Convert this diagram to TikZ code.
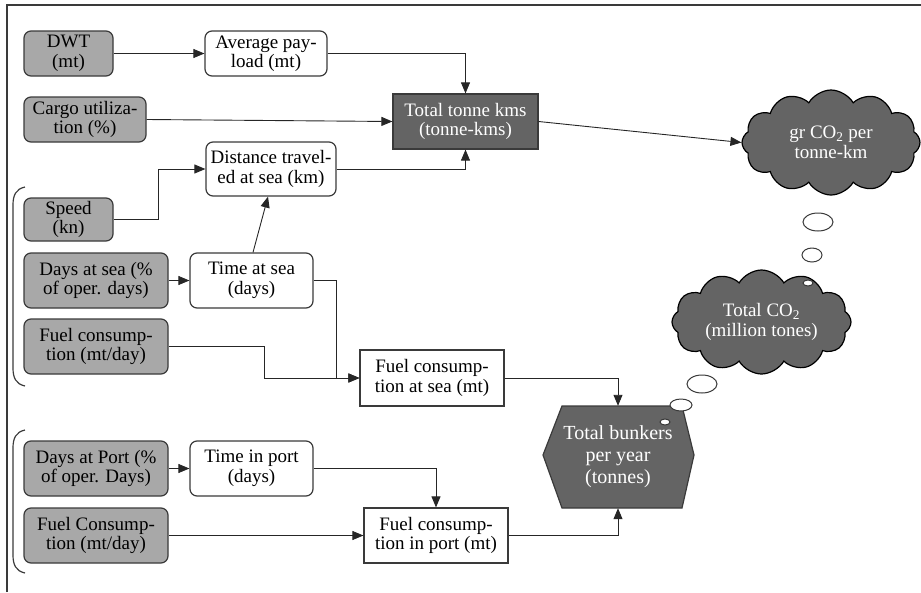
\documentclass[tikz,border=0pt]{standalone}
\usepackage{fontspec}
\setmainfont{Liberation Serif}
\usetikzlibrary{arrows.meta,shapes.symbols}
\definecolor{lg}{HTML}{A8A8A8}
\definecolor{dg}{HTML}{646464}
\definecolor{bd}{HTML}{3A3A3A}
\begin{document}
\begin{tikzpicture}[x=1pt,y=-1pt,
  font=\fontsize{19}{19.5}\selectfont,
  base/.style={draw=bd,line width=1.2pt,align=center,inner sep=0pt},
  gbox/.style={base,rounded corners=7pt,fill=lg},
  wbox/.style={base,rounded corners=7pt,fill=white},
  sbox/.style={base,fill=white},
  dbox/.style={base,fill=dg,text=white},
  arr/.style={draw=black!85,line width=0.9pt,-{Triangle[length=11pt,width=9pt]}},
  cl/.style={cloud,cloud puffs=12,cloud puff arc=120,cloud ignores aspect,
    fill=dg,draw=black,line width=1.2pt,text=white,inner sep=0pt,align=center},
  bub/.style={draw=bd,fill=white,line width=1pt},
  brk/.style={draw=bd,line width=1.2pt}
  ]
\useasboundingbox (0,0) rectangle (921,592);
\draw[bd,line width=1.5pt] (7,592) -- (7,5) -- (921,5);

% brackets
\draw[brk] (25,187) .. controls (16,189) and (13,195) .. (13,205) -- (13,368) .. controls (13,378) and (16,384) .. (25,386);
\draw[brk] (25,430) .. controls (16,432) and (13,438) .. (13,448) -- (13,555) .. controls (13,565) and (16,571) .. (25,573);

% nodes
\node[gbox,minimum width=89pt,minimum height=45pt] (dwt) at (68.5,53.5) {DWT\\(mt)};
\node[wbox,minimum width=122pt,minimum height=45pt] (avg) at (266,53.5) {Average pay-\\load (mt)};
\node[gbox,minimum width=122pt,minimum height=45pt] (cargo) at (85,119.5) {Cargo utiliza-\\tion (\%)};
\node[dbox,minimum width=145pt,minimum height=55pt] (tt) at (465.5,121.5) {Total tonne kms\\(tonne-kms)};
\node[wbox,minimum width=130pt,minimum height=54pt] (dist) at (271,169) {Distance travel-\\ed at sea (km)};
\node[gbox,minimum width=89pt,minimum height=43pt] (speed) at (68.5,219.5) {Speed\\(kn)};
\node[gbox,minimum width=144pt,minimum height=55pt] (dsea) at (96,280.5) {Days at sea (\%\\of oper. days)};
\node[wbox,minimum width=123pt,minimum height=55pt] (tsea) at (251.5,280.5) {Time at sea\\(days)};
\node[gbox,minimum width=144pt,minimum height=55pt] (fcs) at (96,346.5) {Fuel consump-\\tion (mt/day)};
\node[sbox,minimum width=144pt,minimum height=56pt] (fsea) at (432,378) {Fuel consump-\\tion at sea (mt)};
\node[gbox,minimum width=144pt,minimum height=55pt] (dport) at (96,468.5) {Days at Port (\%\\of oper. Days)};
\node[wbox,minimum width=123pt,minimum height=55pt] (tport) at (251.5,468.5) {Time in port\\(days)};
\node[gbox,minimum width=144pt,minimum height=55pt] (fcp) at (96,535.5) {Fuel Consump-\\tion (mt/day)};
\node[sbox,minimum width=144pt,minimum height=55pt] (fport) at (436,535.5) {Fuel consump-\\tion in port (mt)};

% hexagon
\draw[draw=bd,fill=dg,line width=1.2pt] (543,455) -- (562,406) -- (682,406) -- (694,455) -- (682,508) -- (562,508) -- cycle;
\node[inner sep=0pt,minimum width=151pt,minimum height=102pt,text=white,align=center,
  font=\fontsize{20}{22}\selectfont] (bunk) at (618,457) {Total bunkers\\per year\\(tonnes)};

% clouds
\node[cl,minimum width=178pt,minimum height=105pt] (c1) at (831,142.5) {gr CO\textsubscript{2} per\\tonne-km};
\node[cl,minimum width=179pt,minimum height=104pt] (c2) at (761.5,322) {Total CO\textsubscript{2}\\(million tones)};

% thought bubbles
\draw[bub] (818,222) ellipse [x radius=15pt,y radius=9pt];
\draw[bub] (812,255) ellipse [x radius=10pt,y radius=7pt];
\draw[bub] (808,283) ellipse [x radius=5pt,y radius=3pt];
\draw[bub] (702,384) ellipse [x radius=15pt,y radius=9pt];
\draw[bub] (681,405) ellipse [x radius=11pt,y radius=6pt];
\draw[bub] (665,422) ellipse [x radius=5pt,y radius=3pt];

% connectors
\draw[arr] (dwt) -- (avg);
\draw[arr] (avg.east) -| (tt.north);
\draw[arr] (cargo.east) -- (tt.west);
\draw[arr] (dist.east) -| (tt.south);
\draw[arr] (tt.east) -- (c1.west);
\draw[arr] (speed.east) -- ++(45,0) |- (dist.west);
\draw[arr] (dsea) -- (tsea);
\draw[arr] ([xshift=1.5pt]tsea.north) -- ([xshift=-3pt]dist.south);
\draw[arr] (tsea.east) -- ++(23,0) |- (fsea.west);
\draw[arr] (fcs.east) -- ++(96,0) |- (fsea.west);
\draw[arr] (fsea.east) -| (bunk.north);
\draw[arr] (dport) -- (tport);
\draw[arr] (tport.east) -| (fport.north);
\draw[arr] (fcp) -- (fport);
\draw[arr] (fport.east) -| (bunk.south);
\end{tikzpicture}
\end{document}
